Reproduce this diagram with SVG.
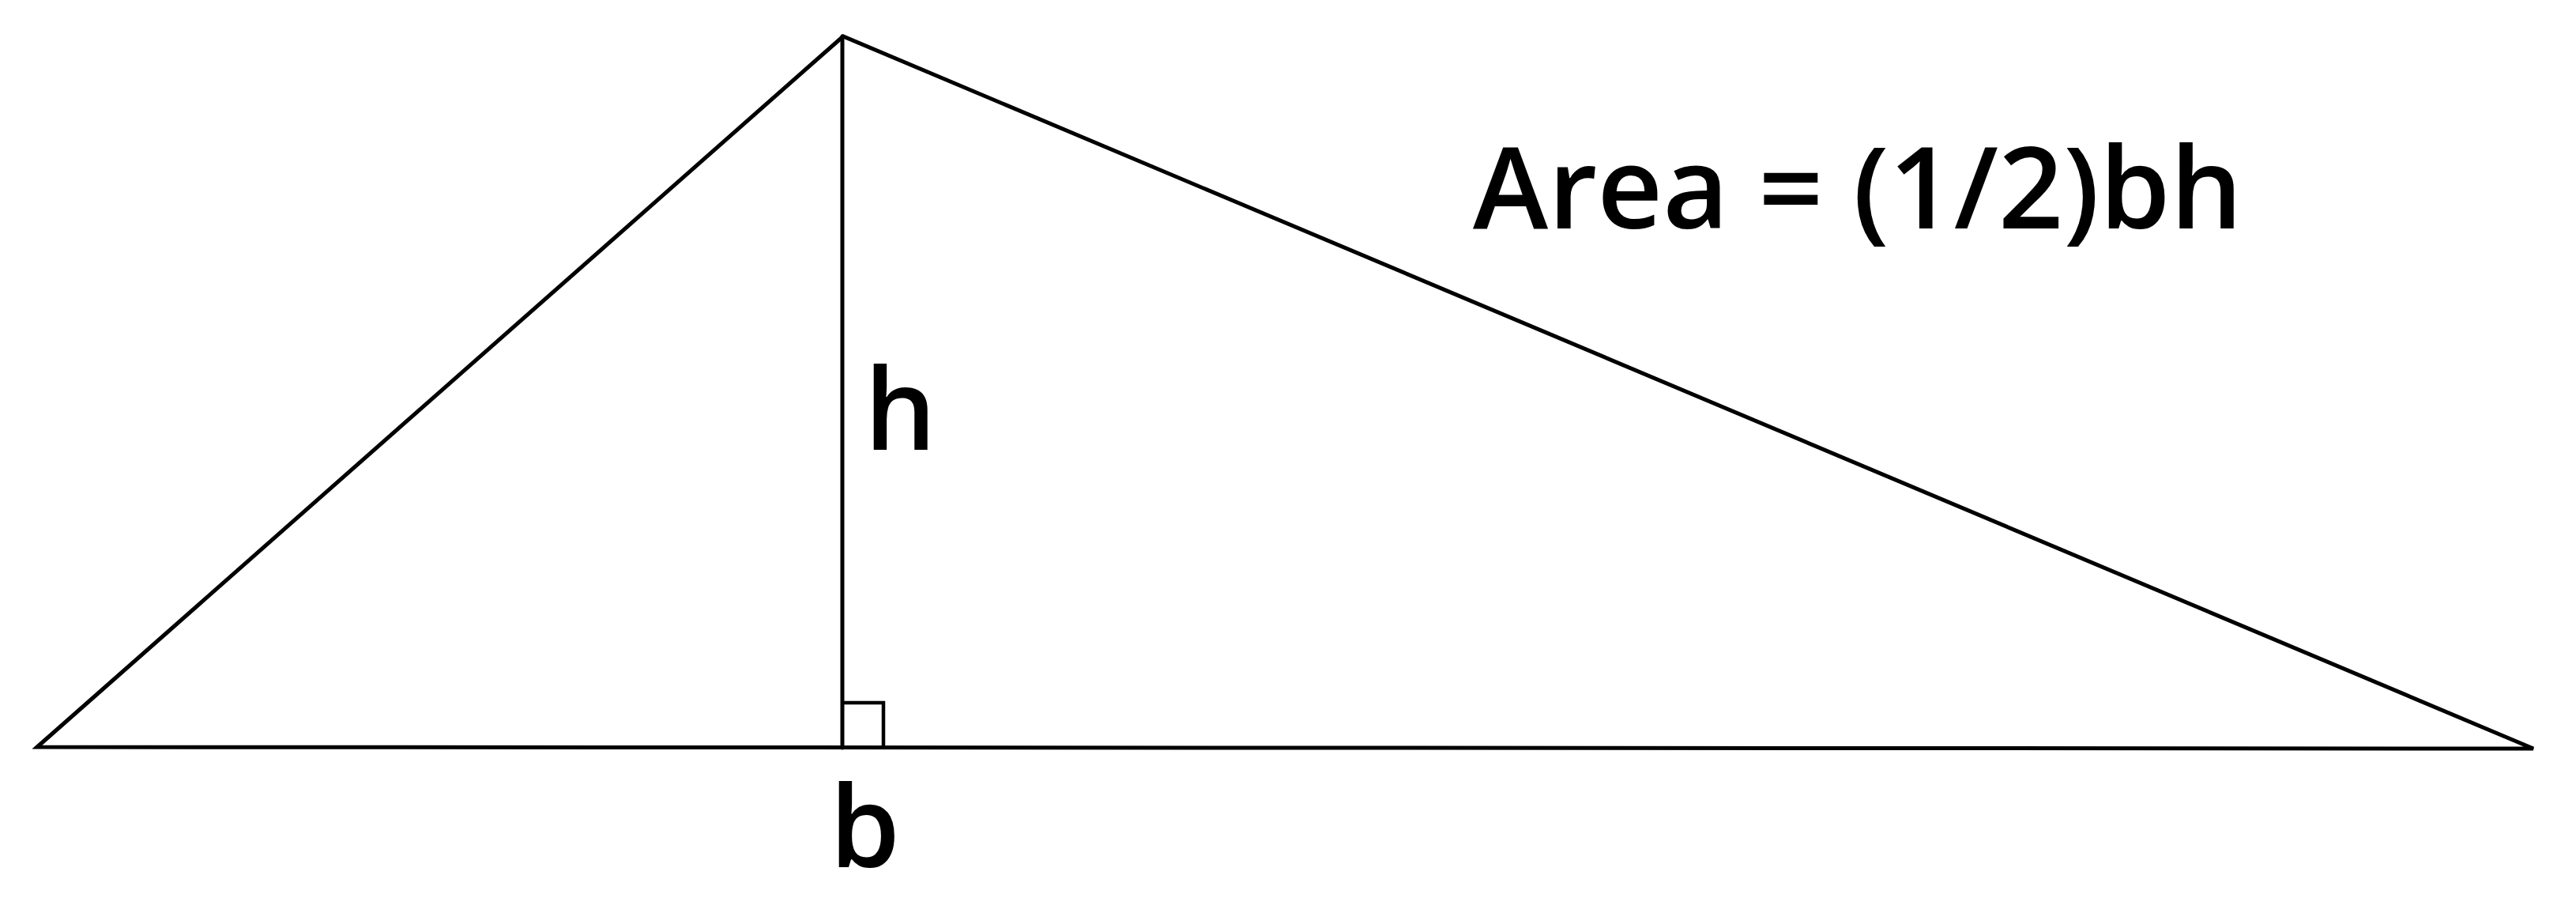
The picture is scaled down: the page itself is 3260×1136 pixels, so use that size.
<svg xmlns="http://www.w3.org/2000/svg" width="3260" height="1136" viewBox="0 0 3260 1136">
<style>
.ln{stroke:#000;stroke-width:5;fill:none;stroke-linejoin:miter;stroke-linecap:round}
.sq{stroke:#000;stroke-width:4.5;fill:none}
.t{font-family:"Open Sans","Noto Sans","Liberation Sans",sans-serif;font-size:143px;font-weight:600;fill:#000}
</style>
<rect width="3260" height="1136" fill="#fff"/>
<g id="connectors">
<polygon id="triangle" class="ln" points="47,945 1067,46 3206,947"/>
<line id="height" class="ln" x1="1066" y1="46" x2="1066" y2="946"/>
<polyline id="right-angle" class="sq" points="1066,889 1118,889 1118,946"/>
</g>
<g id="label-area"><text class="t" x="1864" y="289" textLength="974" lengthAdjust="spacingAndGlyphs">Area = (1/2)bh</text></g>
<g id="label-h"><text class="t" x="1094" y="569">h</text></g>
<g id="label-b"><text class="t" x="1050" y="1097">b</text></g>
</svg>
